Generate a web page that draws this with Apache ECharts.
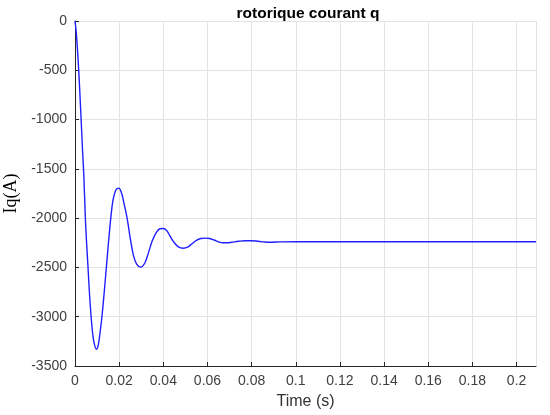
<!DOCTYPE html>
<html>
<head>
<meta charset="utf-8">
<script src="https://cdn.jsdelivr.net/npm/echarts@6/dist/echarts.min.js"></script>
<style>
  html, body { margin: 0; padding: 0; background: #fff; }
  #main { width: 550px; height: 415px; }
</style>
</head>
<body>
<div id="main"></div>
<script>
// temps (s) et courant Iq (A)
var timeS = [
    0, 0.0005, 0.001, 0.0015, 0.002, 0.0025, 0.003, 0.0035, 0.004, 0.0047,
    0.0053, 0.0059, 0.0066, 0.0073, 0.008, 0.0088, 0.0097, 0.0105, 0.0113, 0.0122,
    0.0132, 0.0142, 0.0152, 0.0162, 0.0172, 0.0185, 0.0198, 0.021, 0.0222, 0.0236,
    0.025, 0.0265, 0.028, 0.0297, 0.0315, 0.033, 0.035, 0.037, 0.0385, 0.04,
    0.0415, 0.043, 0.045, 0.047, 0.049, 0.051, 0.053, 0.055, 0.057, 0.059,
    0.061, 0.063, 0.065, 0.067, 0.069, 0.071, 0.074, 0.077, 0.08, 0.083,
    0.086, 0.089, 0.093, 0.1, 0.12, 0.15, 0.18, 0.2088
];
var iqValues = [
    0, -100, -250, -430, -640, -870, -1110, -1350, -1570, -2000,
    -2270, -2500, -2780, -3000, -3170, -3280, -3330, -3290, -3170, -3000,
    -2760, -2500, -2240, -2000, -1820, -1715, -1695, -1740, -1850, -2000,
    -2200, -2380, -2470, -2497, -2460, -2370, -2230, -2140, -2108, -2105,
    -2125, -2180, -2250, -2295, -2305, -2295, -2260, -2225, -2207, -2203,
    -2207, -2222, -2240, -2250, -2250, -2245, -2235, -2229, -2229, -2235,
    -2242, -2244, -2241, -2239, -2240, -2240, -2240, -2240
];

var chart = echarts.init(document.getElementById('main'));

var points = [];
for (var i = 0; i < timeS.length; i++) {
    points.push([timeS[i], iqValues[i]]);
}

var labelFont = 'Liberation Sans, Arial, sans-serif';

var option = {
    animation: false,
    backgroundColor: '#fff',
    title: {
        text: 'rotorique courant q',
        left: 303,
        textAlign: 'center',
        top: 1,
        textStyle: {
            fontFamily: labelFont,
            fontWeight: 'bold',
            fontSize: 15.5,
            color: '#000'
        }
    },
    grid: {
        left: 75,
        right: 14,
        top: 21,
        bottom: 49,
        containLabel: false,
        outerBoundsMode: 'none'
    },
    xAxis: {
        type: 'value',
        min: 0,
        max: 0.2088,
        interval: 0.02,
        name: 'Time (s)',
        nameLocation: 'middle',
        nameGap: 28,
        nameTextStyle: { fontFamily: labelFont, fontSize: 16, color: '#333' },
        axisLine: { onZero: false, lineStyle: { color: '#262626', width: 1 } },
        axisTick: { inside: true, length: 4, lineStyle: { color: '#262626' } },
        axisLabel: {
            fontFamily: labelFont,
            fontSize: 14,
            color: '#404040',
            margin: 8,
            showMaxLabel: false,
            formatter: function (v) { return String(parseFloat(v.toFixed(2))); }
        },
        splitLine: { show: true, lineStyle: { color: '#e3e3e3', width: 1 } }
    },
    yAxis: {
        type: 'value',
        min: -3500,
        max: 0,
        interval: 500,
        name: 'Iq(A)',
        nameLocation: 'middle',
        nameGap: 42,
        nameTextStyle: { fontFamily: 'Liberation Serif, Times New Roman, serif', fontSize: 18, color: '#000' },
        axisLine: { show: true, onZero: false, lineStyle: { color: '#262626', width: 1 } },
        axisTick: { show: true, inside: true, length: 4, lineStyle: { color: '#262626' } },
        axisLabel: {
            fontFamily: labelFont,
            fontSize: 14,
            color: '#404040',
            margin: 8,
            formatter: function (v) { return String(v); }
        },
        splitLine: { show: true, lineStyle: { color: '#e3e3e3', width: 1 } }
    },
    series: [
        {
            name: 'Iq',
            type: 'line',
            data: points,
            showSymbol: false,
            smooth: 0.4,
            lineStyle: { color: '#1f1fff', width: 1.4 }
        }
    ]
};
option && chart.setOption(option);
</script>
</body>
</html>
